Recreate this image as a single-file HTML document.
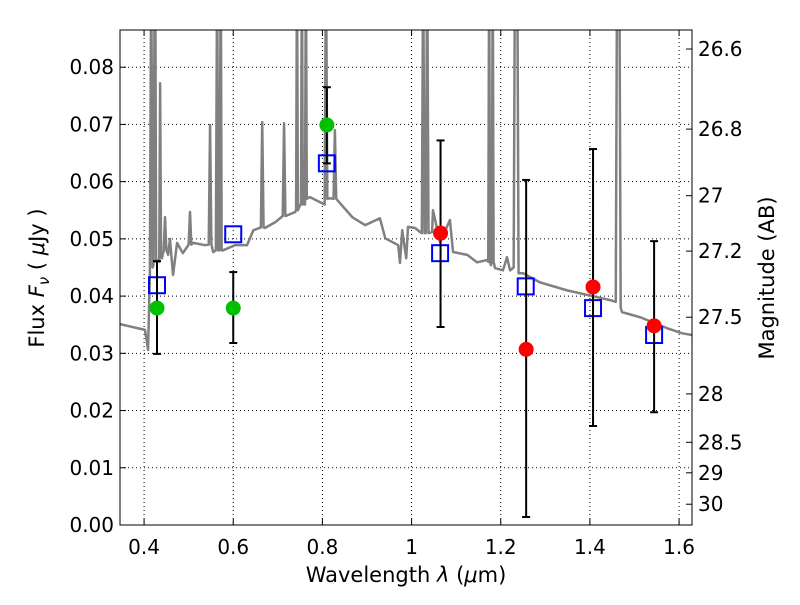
<!DOCTYPE html>
<html><head><meta charset="utf-8"><style>
body{margin:0;background:#fff}
text{font-family:"DejaVu Sans","Liberation Sans",sans-serif;fill:#000}
</style></head><body>
<svg id="chart" width="800" height="600">
<rect x="0" y="0" width="800" height="600" fill="#fff"/>
<g id="grid"></g>
<g id="spec"></g>
<g id="marks"></g>
<rect x="120" y="30" width="572" height="495" fill="none" stroke="#000" stroke-width="1"/>
<g id="axes"></g>
<text x="406" y="582" text-anchor="middle" font-size="21">Wavelength  <tspan font-style="italic">λ</tspan> (<tspan font-style="italic">μ</tspan>m)</text>
<text transform="translate(44,278) rotate(-90)" text-anchor="middle" font-size="21">Flux  <tspan font-style="italic">F</tspan><tspan font-style="italic" font-size="15" dy="5">ν</tspan><tspan dy="-5">  ( </tspan><tspan font-style="italic">μ</tspan>Jy )</text>
<text transform="translate(774,278) rotate(-90)" text-anchor="middle" font-size="21">Magnitude (AB)</text>
</svg>
<script>
const specX=[0.335,0.346,0.402,0.409,0.413,0.416,0.419,0.421,0.424,0.425,0.427,0.431,0.434,0.436,0.438,0.440,0.444,0.447,0.450,0.454,0.458,0.465,0.474,0.487,0.500,0.503,0.506,0.510,0.537,0.545,0.548,0.551,0.555,0.561,0.564,0.566,0.569,0.572,0.574,0.577,0.604,0.631,0.645,0.662,0.665,0.668,0.671,0.694,0.711,0.714,0.717,0.721,0.739,0.741,0.743,0.745,0.750,0.752,0.754,0.756,0.759,0.761,0.763,0.765,0.772,0.795,0.805,0.808,0.811,0.817,0.825,0.828,0.831,0.840,0.867,0.896,0.929,0.941,0.970,0.974,0.979,0.988,0.992,1.008,1.019,1.023,1.026,1.029,1.032,1.035,1.038,1.046,1.048,1.064,1.086,1.093,1.125,1.147,1.169,1.172,1.174,1.176,1.178,1.180,1.182,1.184,1.187,1.205,1.214,1.221,1.229,1.232,1.235,1.237,1.240,1.250,1.288,1.349,1.423,1.445,1.458,1.461,1.464,1.466,1.469,1.472,1.513,1.573,1.607,1.629];
const specY=[0.0353,0.0351,0.0341,0.0306,0.044,0.1,0.045,0.0454,0.1,0.1,0.046,0.0463,0.046,0.0772,0.047,0.0466,0.048,0.0538,0.048,0.0472,0.0500,0.0437,0.0493,0.0475,0.049,0.0547,0.049,0.0493,0.0489,0.049,0.0699,0.049,0.0477,0.048,0.1,0.048,0.0480,0.1,0.048,0.0480,0.0489,0.0489,0.0515,0.052,0.0704,0.052,0.0519,0.0529,0.054,0.0702,0.054,0.0541,0.0547,0.055,0.1,0.055,0.0559,0.056,0.1,0.056,0.0562,0.056,0.1,0.057,0.0573,0.0564,0.056,0.1,0.057,0.0571,0.057,0.0690,0.057,0.0562,0.0538,0.0524,0.0536,0.0501,0.0489,0.0458,0.0515,0.0466,0.0521,0.0519,0.0512,0.051,0.1,0.051,0.051,0.1,0.051,0.0512,0.0550,0.0494,0.0533,0.0477,0.0472,0.0459,0.0463,0.046,0.1,0.046,0.0454,0.046,0.1,0.046,0.0449,0.0445,0.0468,0.0445,0.045,0.1,0.1,0.1,0.044,0.0440,0.0424,0.0410,0.0397,0.0393,0.039,0.1,0.1,0.1,0.038,0.0372,0.0363,0.0344,0.0335,0.0332];
const obsX=[0.429,0.600,0.810,1.065,1.257,1.407,1.544];
const obsY=[0.0379,0.0379,0.0699,0.0510,0.0307,0.0416,0.0348];
const errLo=[0.0299,0.0318,0.0632,0.0346,0.0014,0.0173,0.0197];
const errHi=[0.0461,0.0442,0.0765,0.0672,0.0603,0.0657,0.0496];
const obsColor=['#00c000','#00c000','#00c000','#ff0000','#ff0000','#ff0000','#ff0000'];
const modX=[0.429,0.600,0.810,1.064,1.256,1.407,1.544];
const modY=[0.0419,0.0508,0.0632,0.0475,0.0417,0.0379,0.0332];
const xTicks=[0.4,0.6,0.8,1.0,1.2,1.4,1.6];
const xTickLabels=['0.4','0.6','0.8','1','1.2','1.4','1.6'];
const yTicks=[0,0.01,0.02,0.03,0.04,0.05,0.06,0.07,0.08];
const magTicks=[26.6,26.8,27,27.2,27.5,28,28.5,29,30];

const X0=120,X1=692,Y0=525,Y1=30,xmin=0.346,xmax=1.629,ymin=0,ymax=0.0865;
const sx=v=>X0+(v-xmin)/(xmax-xmin)*(X1-X0);
const sy=v=>Y0-(v-ymin)/(ymax-ymin)*(Y0-Y1);
const NS='http://www.w3.org/2000/svg';
function mk(t,a,p){const e=document.createElementNS(NS,t);for(const k in a)e.setAttribute(k,a[k]);p.appendChild(e);return e;}
const grid=document.getElementById('grid'),axes=document.getElementById('axes'),spec=document.getElementById('spec'),marks=document.getElementById('marks');

xTicks.forEach((t,i)=>{const x=sx(t);
 const g=mk('line',{x1:x,x2:x,y1:Y1,y2:Y0,stroke:'#000','stroke-dasharray':'1,3','stroke-width':1},grid);
 
 
 mk('line',{x1:x,x2:x,y1:Y0,y2:Y0-6,stroke:'#000'},axes);
 mk('line',{x1:x,x2:x,y1:Y1,y2:Y1+6,stroke:'#000'},axes);
 const tx=mk('text',{x:x,y:554,'text-anchor':'middle','font-size':20},axes);tx.textContent=xTickLabels[i];
 
 
});
yTicks.forEach(t=>{const y=sy(t);
 const g=mk('line',{x1:X0,x2:X1,y1:y,y2:y,stroke:'#000','stroke-dasharray':'1,3','stroke-width':1},grid);
 
 
 mk('line',{x1:X0,x2:X0+6,y1:y,y2:y,stroke:'#000'},axes);
 const tx=mk('text',{x:114,y:y+7,'text-anchor':'end','font-size':20},axes);tx.textContent=t.toFixed(2);
 
 
});
magTicks.forEach(m=>{const f=Math.pow(10,(23.9-m)/2.5);const y=sy(f);
 mk('line',{x1:X1,x2:X1-6,y1:y,y2:y,stroke:'#000'},axes);
 const tx=mk('text',{x:698,y:y+7,'font-size':20},axes);tx.textContent=String(m);
 
 
});
const cp=mk('clipPath',{id:'clip'},spec);mk('rect',{x:X0,y:Y1,width:X1-X0,height:Y0-Y1},cp);
const pl=mk('polyline',{points:specX.map((x,i)=>sx(x)+','+sy(specY[i])).join(' '),fill:'none',stroke:'#808080','stroke-width':2.5,'stroke-linejoin':'round','clip-path':'url(#clip)'},spec);


modX.forEach((x,i)=>{const r=mk('rect',{x:sx(x)-8,y:sy(modY[i])-8,width:16,height:16,fill:'none',stroke:'#0000ff','stroke-width':2},marks);
 
 
});
obsX.forEach((x,i)=>{const cx=sx(x);
 const e=mk('line',{x1:cx,x2:cx,y1:sy(errLo[i]),y2:sy(errHi[i]),stroke:'#000','stroke-width':2},marks);
 
 
 [errLo[i],errHi[i]].forEach(v=>mk('line',{x1:cx-4,x2:cx+4,y1:sy(v),y2:sy(v),stroke:'#000','stroke-width':2},marks));
 const c=mk('circle',{cx:cx,cy:sy(obsY[i]),r:7.5,fill:obsColor[i]},marks);
 
 
});
</script>
</body></html>
